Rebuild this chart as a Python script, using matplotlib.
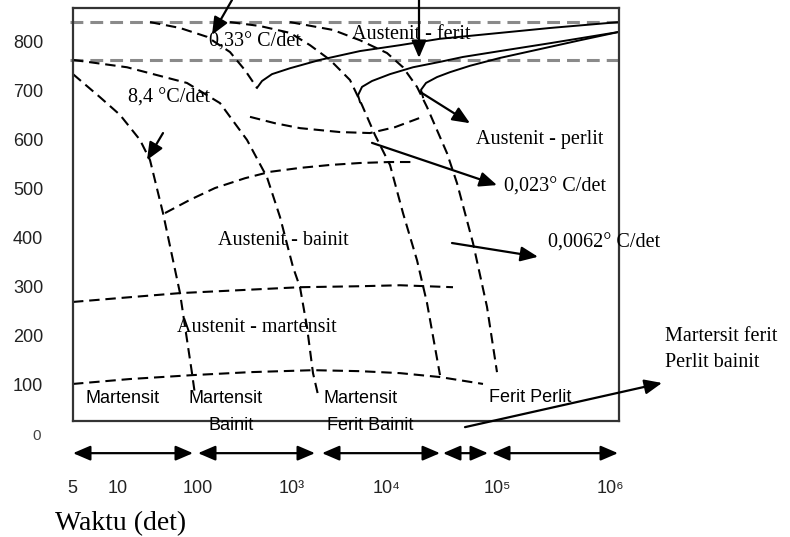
import matplotlib.pyplot as plt

# horizontal position along the (hand drawn) time axis, temperature in degC
waktu_label = ['5', '10', '100', '10³', '10⁴', '10⁵', '10⁶']
waktu_pos = [72, 118, 198, 292, 387, 497, 610]
suhu_label = [800, 700, 600, 500, 400, 300, 200, 100]

# dashed grey: austenitising lines
garis_atas = 843
garis_bawah = 766

# cooling curves (dashed black)
kurva_84_x = [73, 100, 120, 140, 150, 163, 173, 180, 192, 195]
kurva_84_t = [737, 690, 654, 603, 562, 454, 358, 291, 128, 84]

kurva_033_x = [73, 127, 187, 220, 247, 267, 280, 293, 300, 307, 313, 318]
kurva_033_t = [766, 751, 719, 678, 603, 527, 446, 344, 303, 222, 128, 84]

kurva_atas_x = [150, 180, 207, 230, 245, 257]
kurva_atas_t = [843, 831, 813, 782, 745, 709]

kurva_0023_x = [230, 260, 290, 310, 330, 350, 362, 375, 390, 403, 417, 427, 440]
kurva_0023_t = [843, 835, 821, 796, 766, 725, 674, 613, 552, 454, 358, 271, 124]

kurva_00062_x = [290, 333, 360, 387, 403, 417, 427, 437, 447, 457, 473, 487, 497]
kurva_00062_t = [843, 827, 806, 780, 751, 711, 670, 623, 576, 515, 393, 263, 130]

# transformation lines (dashed black)
bainit_atas_x = [250, 275, 300, 340, 370, 395, 420]
bainit_atas_t = [650, 637, 627, 619, 617, 629, 648]

bainit_x = [165, 190, 215, 245, 270, 300, 330, 360, 390, 413]
bainit_t = [454, 481, 505, 525, 538, 546, 552, 556, 558, 558]

ms_x = [73, 120, 180, 240, 300, 360, 400, 453]
ms_t = [273, 281, 291, 297, 303, 305, 307, 303]

mf_x = [73, 130, 193, 250, 313, 360, 400, 440, 483]
mf_t = [106, 116, 124, 130, 134, 132, 128, 120, 106]

# solid start curves
ferit_x = [257, 262, 272, 290, 320, 360, 400, 440, 480, 550, 619]
ferit_t = [709, 723, 737, 749, 766, 784, 796, 809, 817, 831, 843]

perlit1_x = [360, 358, 362, 372, 390, 413, 440, 463, 500, 550, 619]
perlit1_t = [680, 694, 711, 723, 737, 751, 762, 772, 784, 800, 823]

perlit2_x = [423, 421, 426, 437, 450, 470, 500, 540, 580, 619]
perlit2_t = [690, 705, 719, 731, 741, 754, 770, 788, 806, 823]

# regions on the time axis
rentang = [(73, 193), (198, 315), (322, 440), (443, 488), (492, 618)]

serif = 'Liberation Serif'
sans = ['Liberation Sans', 'DejaVu Sans']

fig = plt.figure(figsize=(7.9, 5.37), dpi=100)
ax = fig.add_axes([73 / 790, 116 / 537, 546 / 790, 413 / 537])
ax.set_xlim(73, 619)
ax.set_ylim(30.5, 871.7)
ax.set_xticks([])
ax.set_yticks([])
for s in ax.spines.values():
    s.set_color('#333333')
    s.set_linewidth(1.6)

abu = dict(color='#8a8a8a', lw=2.2, linestyle=(0, (4.2, 2.3)))
ax.plot([70, 619], [garis_atas, garis_atas], clip_on=False, **abu)
ax.plot([70, 619], [garis_bawah, garis_bawah], clip_on=False, **abu)

putus = dict(color='black', lw=1.5, linestyle=(0, (5, 2.8)))
for xs, ts in [(kurva_84_x, kurva_84_t), (kurva_033_x, kurva_033_t),
               (kurva_atas_x, kurva_atas_t), (kurva_0023_x, kurva_0023_t),
               (kurva_00062_x, kurva_00062_t), (bainit_atas_x, bainit_atas_t),
               (bainit_x, bainit_t), (ms_x, ms_t), (mf_x, mf_t)]:
    ax.plot(xs, ts, **putus)

for xs, ts in [(ferit_x, ferit_t), (perlit1_x, perlit1_t), (perlit2_x, perlit2_t)]:
    ax.plot(xs, ts, color='black', lw=1.4)

panah = dict(arrowstyle='-|>,head_length=0.7,head_width=0.3', color='black',
             lw=1.6, mutation_scale=15, shrinkA=0, shrinkB=0)


def arrow(x0, t0, x1, t1, style=panah):
    ax.annotate('', xy=(x1, t1), xytext=(x0, t0), arrowprops=style,
                annotation_clip=False)


arrow(232, 888, 212, 817)
arrow(419, 888, 419, 770)
arrow(163, 617, 147, 562)
arrow(420, 701, 470, 637)
arrow(372, 597, 497, 511)
arrow(452, 393, 538, 365)
arrow(465, 18, 662, 108)

dua = dict(panah, arrowstyle='<|-|>,head_length=0.7,head_width=0.3')
for a, b in rentang:
    arrow(a, -35, b, -35, dua)

teks = dict(family=serif, fontsize=14.5, ha='center', va='center', clip_on=False)
ax.text(255, 802, '0,33° C/det', **teks)
ax.text(411, 817, 'Austenit - ferit', **teks)
ax.text(169, 688, '8,4 °C/det', **teks)
ax.text(540, 603, 'Austenit - perlit', **teks)
ax.text(555, 507, '0,023° C/det', **teks)
ax.text(604, 393, '0,0062° C/det', **teks)
ax.text(283, 399, 'Austenit - bainit', **teks)
ax.text(257, 220, 'Austenit - martensit', **teks)
ax.text(665, 202, 'Martersit ferit', **dict(teks, ha='left'))
ax.text(665, 149, 'Perlit bainit', **dict(teks, ha='left'))

fasa = dict(family=sans, fontsize=13, ha='center', va='center', clip_on=False)
ax.text(123, 77, 'Martensit', **fasa)
ax.text(226, 77, 'Martensit', **fasa)
ax.text(231, 22, 'Bainit', **fasa)
ax.text(361, 77, 'Martensit', **fasa)
ax.text(370, 22, 'Ferit Bainit', **fasa)
ax.text(530, 79, 'Ferit Perlit', **fasa)

for v in suhu_label:
    ax.text(28, v, str(v), family=sans, fontsize=13, ha='center', va='center',
            color='#222222', clip_on=False)
ax.text(37, 0, '0', family=sans, fontsize=11, ha='center', va='center',
        color='#444444', clip_on=False)

for lab, p in zip(waktu_label, waktu_pos):
    ax.text(p, -108, lab, family=sans, fontsize=13, ha='center', va='center',
            color='#222222', clip_on=False)

ax.text(55, -179, 'Waktu (det)', family=serif, fontsize=20, ha='left',
        va='center', clip_on=False)

fig.savefig('out.png', dpi=100)
